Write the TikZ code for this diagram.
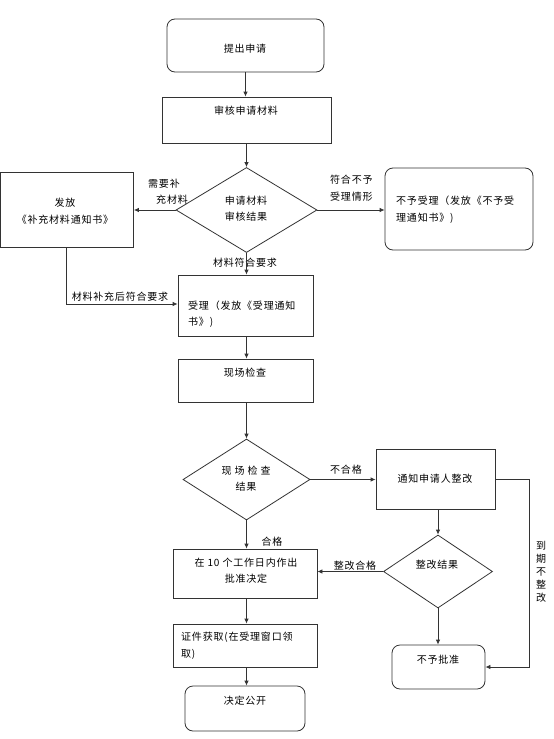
\documentclass[tikz,border=0pt]{standalone}
\usepackage{fontspec}
\usetikzlibrary{shapes.geometric,arrows.meta}
\newfontfamily\cjkfam[LetterSpace=8]{Noto Sans CJK SC}
\newcommand{\cjkfont}{\cjkfam\fontsize{10}{16.5}\selectfont}
\begin{document}
\begin{tikzpicture}[x=1pt,y=-1pt,
  box/.style={draw=black!80, line width=0.8pt, rectangle, inner sep=0pt},
  rbox/.style={box, rounded corners=8pt},
  dia/.style={draw=black!80, line width=0.8pt, diamond, inner sep=0pt},
  txt/.style={font=\cjkfont, inner sep=0pt, align=center},
  ltxt/.style={font=\cjkfont, inner sep=0pt, align=left, anchor=west},
  arr/.style={draw=black!80, line width=0.8pt, -{Latex[length=5pt,width=4.5pt]}},
  ln/.style={draw=black!80, line width=0.8pt}]
\path[use as bounding box, fill=white] (0,0) rectangle (554,739);

% boxes
\node[rbox, minimum width=157pt, minimum height=53pt] (start) at (245.5,45.5) {};
\node[box, minimum width=169pt, minimum height=46pt] (review) at (246.5,120) {};
\node[dia, minimum width=141pt, minimum height=85pt] (d1) at (246.5,210) {};
\node[box, minimum width=133pt, minimum height=75pt] (left) at (67,209.5) {};
\node[rbox, minimum width=148pt, minimum height=82pt] (right) at (459,209) {};
\node[box, minimum width=135pt, minimum height=61pt] (accept) at (245.5,305.5) {};
\node[box, minimum width=135pt, minimum height=43pt] (site) at (245.5,380.5) {};
\node[dia, minimum width=127pt, minimum height=81pt] (d2) at (246.5,479.5) {};
\node[box, minimum width=119pt, minimum height=60pt] (notify) at (435.5,479) {};
\node[box, minimum width=144pt, minimum height=49pt] (decide) at (245,573.5) {};
\node[dia, minimum width=109pt, minimum height=73pt] (d3) at (438,571.5) {};
\node[box, minimum width=144pt, minimum height=43pt] (cert) at (245,645.5) {};
\node[rbox, minimum width=120pt, minimum height=45pt] (publish) at (245,708.5) {};
\node[rbox, minimum width=93pt, minimum height=44pt] (reject) at (438.5,667) {};

% texts
\node[txt] (tstart) at (245,49) {提出申请};
\node[txt] (treview) at (246,111) {审核申请材料};
\node[txt] (td1) at (246,208.5) {申请材料\\审核结果};
\node[txt] (tleft) at (65,211) {发放\\《补充材料通知书》};
\node[ltxt] (tright) at (396,209.5) {不予受理（发放《不予受\\理通知书》)};
\node[ltxt] (taccept) at (188,314) {受理（发放《受理通知\\书》)};
\node[txt] (tsite) at (245,373) {现场检查};
\node[txt] (td2) at (246,478.5) {现\hspace{3pt}场\hspace{3pt}检\hspace{3pt}查\\结果};
\node[txt] (tnotify) at (435,479) {通知申请人整改};
\node[txt] (tdecide) at (246,570.5) {在 10 个工作日内作出\\批准决定};
\node[txt] (td3) at (437,565) {整改结果};
\node[ltxt] (tcert) at (181,645.5) {证件获取(在受理窗口领\\取)};
\node[txt] (tpublish) at (245,701) {决定公开};
\node[txt] (treject) at (438,660) {不予批准};

% labels
\node[ltxt] (l1) at (148,191.5) {需要补\\\hspace{8pt}充材料};
\node[ltxt] (l2) at (330,188) {符合不予\\受理情形};
\node[txt] (l3) at (245,263) {材料符合要求};
\node[txt] (l4) at (120,297) {材料补充后符合要求};
\node[txt] (l5) at (346,470) {不合格};
\node[txt] (l6) at (272,542) {合格};
\node[txt] (l7) at (355,566) {整改合格};
\node[txt, font=\cjkfam\fontsize{10}{13}\selectfont] (l8) at (541,571.5) {到\\期\\不\\整\\改};

% connectors
\coordinate (c1) at (66,304);
\coordinate (c2) at (529,479);
\coordinate (c3) at (529,667);
\draw[arr] (start.south) -- (start.south |- review.north);
\draw[arr] (d1.north |- review.south) -- (d1.north);
\draw[arr] (d1.west) -- (d1.west -| left.east);
\draw[arr] (d1.east) -- (d1.east -| right.west);
\draw[arr] (d1.south) -- (d1.south |- accept.north);
\draw[arr] (left.south -| c1) -- (c1) -- (c1 -| accept.west);
\draw[arr] (d1.south |- accept.south) -- (d1.south |- site.north);
\draw[arr] (d2.north |- site.south) -- (d2.north);
\draw[arr] (d2.east) -- (d2.east -| notify.west);
\draw[arr] (d2.south) -- (d2.south |- decide.north);
\draw[arr] (d3.north |- notify.south) -- (d3.north);
\draw[arr] (d3.west) -- (d3.west -| decide.east);
\draw[arr] (d3.south) -- (d3.south |- reject.north);
\draw[arr] (c2 -| notify.east) -- (c2) -- (c3) -- (c3 -| reject.east);
\draw[arr] (d2.south |- decide.south) -- (d2.south |- cert.north);
\draw[arr] (d2.south |- cert.south) -- (d2.south |- publish.north);
\end{tikzpicture}
\end{document}
